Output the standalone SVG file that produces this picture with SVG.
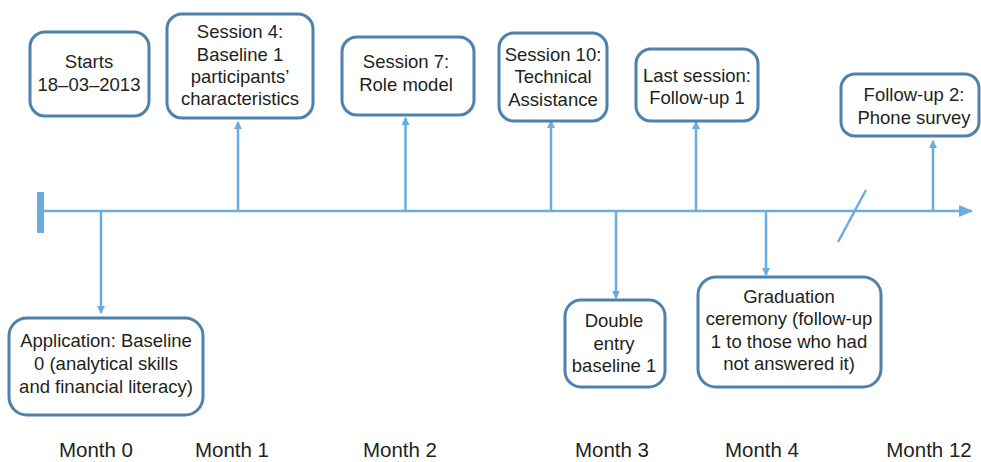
<svg xmlns="http://www.w3.org/2000/svg" width="981" height="462" viewBox="0 0 981 462">
<style>
.box{fill:#fff;stroke:#4d82ae;stroke-width:3}
.t{font-family:"Liberation Sans",Arial,sans-serif;font-size:18.5px;fill:#231f20;text-anchor:middle}
.m{font-family:"Liberation Sans",Arial,sans-serif;font-size:20.5px;fill:#231f20;text-anchor:middle}
.c{stroke:#6aaee0;stroke-width:2.5;fill:none}
</style>
<defs>
<marker id="ah" markerWidth="8" markerHeight="8" refX="7" refY="4" orient="auto" markerUnits="userSpaceOnUse">
<path d="M0,0 L8,4 L0,8 Z" fill="#6aaee0"/>
</marker>
<marker id="big" markerWidth="14" markerHeight="12" refX="13" refY="6" orient="auto" markerUnits="userSpaceOnUse">
<path d="M0,0 L14,6 L0,12 Z" fill="#6aaee0"/>
</marker>
</defs>
<g id="connectors">
<rect x="37" y="192" width="7" height="41" fill="#6aaee0"/>
<line class="c" x1="43" y1="211" x2="972" y2="211" stroke-width="3" marker-end="url(#big)"/>
<line class="c" x1="866" y1="190" x2="838" y2="242"/>
<line class="c" x1="101" y1="211" x2="101" y2="313" marker-end="url(#ah)"/>
<line class="c" x1="238" y1="211" x2="238" y2="122" marker-end="url(#ah)"/>
<line class="c" x1="405.5" y1="211" x2="405.5" y2="118" marker-end="url(#ah)"/>
<line class="c" x1="551" y1="211" x2="551" y2="121" marker-end="url(#ah)"/>
<line class="c" x1="616" y1="211" x2="616" y2="298" marker-end="url(#ah)"/>
<line class="c" x1="696" y1="211" x2="696" y2="122" marker-end="url(#ah)"/>
<line class="c" x1="766" y1="211" x2="766" y2="275" marker-end="url(#ah)"/>
<line class="c" x1="933" y1="211" x2="933" y2="141" marker-end="url(#ah)"/>
</g>
<g id="starts">
<rect class="box" x="30" y="32" width="119" height="84" rx="15"/>
<text class="t" x="89" y="68">Starts</text>
<text class="t" x="89" y="91">18–03–2013</text>
</g>
<g id="session4">
<rect class="box" x="167" y="14" width="146" height="104" rx="15"/>
<text class="t" x="240" y="38">Session 4:</text>
<text class="t" x="240" y="61">Baseline 1</text>
<text class="t" x="240" y="83">participants’</text>
<text class="t" x="240" y="105">characteristics</text>
</g>
<g id="session7">
<rect class="box" x="342" y="37" width="132" height="78" rx="15"/>
<text class="t" x="406" y="68">Session 7:</text>
<text class="t" x="406" y="91">Role model</text>
</g>
<g id="session10">
<rect class="box" x="499" y="33" width="108" height="88" rx="15"/>
<text class="t" x="553" y="61">Session 10:</text>
<text class="t" x="553" y="83">Technical</text>
<text class="t" x="553" y="106">Assistance</text>
</g>
<g id="last-session">
<rect class="box" x="636" y="49" width="122" height="72" rx="15"/>
<text class="t" x="697" y="82">Last session:</text>
<text class="t" x="697" y="104">Follow-up 1</text>
</g>
<g id="followup2">
<rect class="box" x="841" y="74" width="138" height="62" rx="14"/>
<text class="t" x="914" y="101">Follow-up 2:</text>
<text class="t" x="914" y="124">Phone survey</text>
</g>
<g id="application">
<rect class="box" x="9" y="318" width="194" height="97" rx="18"/>
<text class="t" x="106" y="347">Application: Baseline</text>
<text class="t" x="106" y="370">0 (analytical skills</text>
<text class="t" x="106" y="393">and financial literacy)</text>
</g>
<g id="double-entry">
<rect class="box" x="565" y="300" width="100" height="87" rx="16"/>
<text class="t" x="614" y="327">Double</text>
<text class="t" x="614" y="350">entry</text>
<text class="t" x="614" y="372">baseline 1</text>
</g>
<g id="graduation">
<rect class="box" x="698" y="277" width="183" height="110" rx="18"/>
<text class="t" x="789" y="303">Graduation</text>
<text class="t" x="789" y="325">ceremony (follow-up</text>
<text class="t" x="789" y="348">1 to those who had</text>
<text class="t" x="789" y="370">not answered it)</text>
</g>
<g id="months">
<text class="m" x="96" y="457">Month 0</text>
<text class="m" x="232" y="457">Month 1</text>
<text class="m" x="400" y="457">Month 2</text>
<text class="m" x="612" y="457">Month 3</text>
<text class="m" x="762" y="457">Month 4</text>
<text class="m" x="929" y="457">Month 12</text>
</g>
</svg>
